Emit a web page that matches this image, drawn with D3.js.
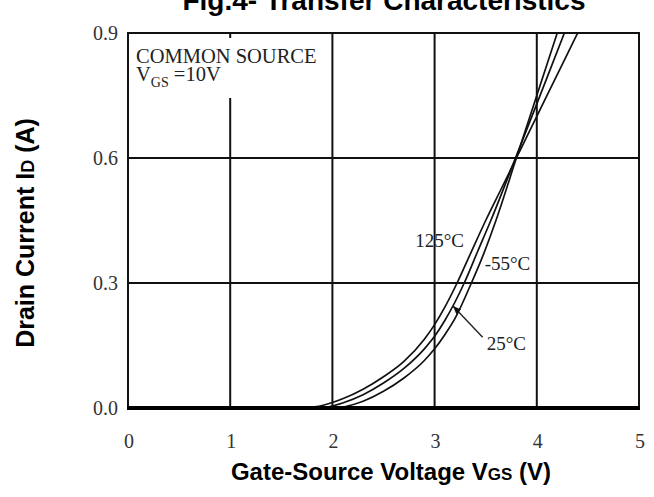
<!DOCTYPE html>
<html><head><meta charset="utf-8">
<script src="https://cdn.jsdelivr.net/npm/d3@7"></script>
<style>body{margin:0;background:#fff}</style>
</head><body><svg id="c" width="654" height="497"></svg>
<script>
const xTicks=[0,1,2,3,4,5];
const xTickLabels=["0","1","2","3","4","5"];
const yTicks=[0.0,0.3,0.6,0.9];
const yTickLabels=["0.0","0.3","0.6","0.9"];
const seriesNames=["125°C","25°C","-55°C"];
const vgs125=[1.72,1.9,2.1,2.3,2.5,2.7,2.9,3.0,3.1,3.22,3.35,3.5,3.65,3.8,3.9,4.0,4.2,4.4];
const id125=[0,0.006,0.022,0.045,0.075,0.112,0.165,0.20,0.242,0.30,0.37,0.45,0.525,0.60,0.65,0.70,0.80,0.90];
const vgs25=[1.92,2.1,2.3,2.5,2.7,2.9,3.0,3.1,3.29,3.42,3.55,3.8,4.0,4.27];
const id25=[0,0.012,0.032,0.06,0.095,0.142,0.172,0.21,0.30,0.375,0.45,0.605,0.73,0.90];
const vgsm55=[2.08,2.3,2.5,2.7,2.9,3.0,3.1,3.2,3.36,3.48,3.6,3.8,4.0,4.2];
const idm55=[0,0.016,0.04,0.072,0.114,0.142,0.176,0.215,0.30,0.37,0.45,0.60,0.75,0.90];

const svg=d3.select("#c");
const L=128,R=639,T=33,B=408;
const x=d3.scaleLinear().domain([0,5]).range([L,R]);
const y=d3.scaleLinear().domain([0,0.9]).range([B,T]);
const serif="'Liberation Serif','Times New Roman',serif";
const sans="'Liberation Sans',Arial,sans-serif";

// grid
svg.append("g").selectAll("line").data(xTicks.slice(1,-1)).join("line")
 .attr("x1",d=>x(d)).attr("x2",d=>x(d)).attr("y1",T).attr("y2",B)
 .attr("stroke","#111").attr("stroke-width",2);
svg.append("g").selectAll("line").data(yTicks.slice(1,-1)).join("line")
 .attr("x1",L).attr("x2",R).attr("y1",d=>y(d)).attr("y2",d=>y(d))
 .attr("stroke","#111").attr("stroke-width",2);

// note box background
svg.append("rect").attr("x",L+3).attr("y",T+5).attr("width",198).attr("height",60).attr("fill","#fff");
const note=svg.append("g").attr("fill","#222").attr("font-family",serif);
note.append("text").attr("x",L+8).attr("y",T+30).attr("font-size",20.5).text("COMMON SOURCE");
const vt=note.append("text").attr("x",L+8).attr("y",T+48).attr("font-size",20.5);
vt.append("tspan").text("V");
vt.append("tspan").attr("font-size",14).attr("dy",6).text("GS");
vt.append("tspan").attr("dy",-6).text(" =10V");

// curves
svg.append("clipPath").attr("id","clip").append("rect").attr("x",L).attr("y",T).attr("width",R-L).attr("height",B-T);
const line=d3.line().x(d=>x(d[0])).y(d=>y(d[1])).curve(d3.curveMonotoneX);
const series=[d3.zip(vgs125,id125),d3.zip(vgs25,id25),d3.zip(vgsm55,idm55)];
svg.append("g").attr("clip-path","url(#clip)").selectAll("path").data(series).join("path")
 .attr("d",line).attr("fill","none").attr("stroke","#111").attr("stroke-width",1.7);

// border
svg.append("path").attr("d",`M${L},${B}V${T}H${R}V${B}`).attr("fill","none").attr("stroke","#111").attr("stroke-width",2);
svg.append("line").attr("x1",L-1).attr("x2",R+1).attr("y1",B).attr("y2",B).attr("stroke","#000").attr("stroke-width",4);

// tick labels
svg.append("g").selectAll("text").data(xTicks).join("text")
 .attr("x",d=>x(d)+1).attr("y",448).attr("text-anchor","middle")
 .attr("font-family",serif).attr("font-size",20).attr("fill","#333").text((d,i)=>xTickLabels[i]);
svg.append("g").selectAll("text").data(yTicks).join("text")
 .attr("x",118).attr("y",d=>y(d)).attr("dy","0.35em").attr("text-anchor","end")
 .attr("font-family",serif).attr("font-size",20).attr("fill","#333").text((d,i)=>yTickLabels[i]);

// curve labels
const lab=svg.append("g").attr("font-family",serif).attr("font-size",19).attr("fill","#222");
lab.append("text").attr("x",x(2.81)).attr("y",y(0.386)).text(seriesNames[0]);
lab.append("text").attr("x",x(3.49)).attr("y",y(0.331)).text(seriesNames[2]);
lab.append("text").attr("x",x(3.51)).attr("y",y(0.139)).text(seriesNames[1]);
// arrow
svg.append("defs").append("marker").attr("id","ah").attr("viewBox","0 0 10 10").attr("refX",10).attr("refY",5)
 .attr("markerWidth",6).attr("markerHeight",6).attr("orient","auto")
 .append("path").attr("d","M0,1L10,5L0,9Z").attr("fill","#111");
svg.append("line").attr("x1",x(3.47)).attr("y1",y(0.17)).attr("x2",x(3.18)).attr("y2",y(0.245))
 .attr("stroke","#222").attr("stroke-width",1.4).attr("marker-end","url(#ah)");

// titles
svg.append("text").attr("x",384).attr("y",10).attr("text-anchor","middle").attr("font-family",sans)
 .attr("font-weight","bold").attr("font-size",28).text("Fig.4- Transfer Characteristics");
const xt=svg.append("text").attr("x",391).attr("y",480).attr("text-anchor","middle").attr("font-family",sans)
 .attr("font-weight","bold").attr("font-size",24);
xt.append("tspan").text("Gate-Source Voltage V");
xt.append("tspan").attr("font-size",17).text("GS");
xt.append("tspan").text(" (V)");
const yt=svg.append("text").attr("transform","translate(34,233) rotate(-90)").attr("text-anchor","middle")
 .attr("font-family",sans).attr("font-weight","bold").attr("font-size",25);
yt.append("tspan").text("Drain Current I");
yt.append("tspan").attr("font-size",18).text("D");
yt.append("tspan").text(" (A)");
</script></body></html>
